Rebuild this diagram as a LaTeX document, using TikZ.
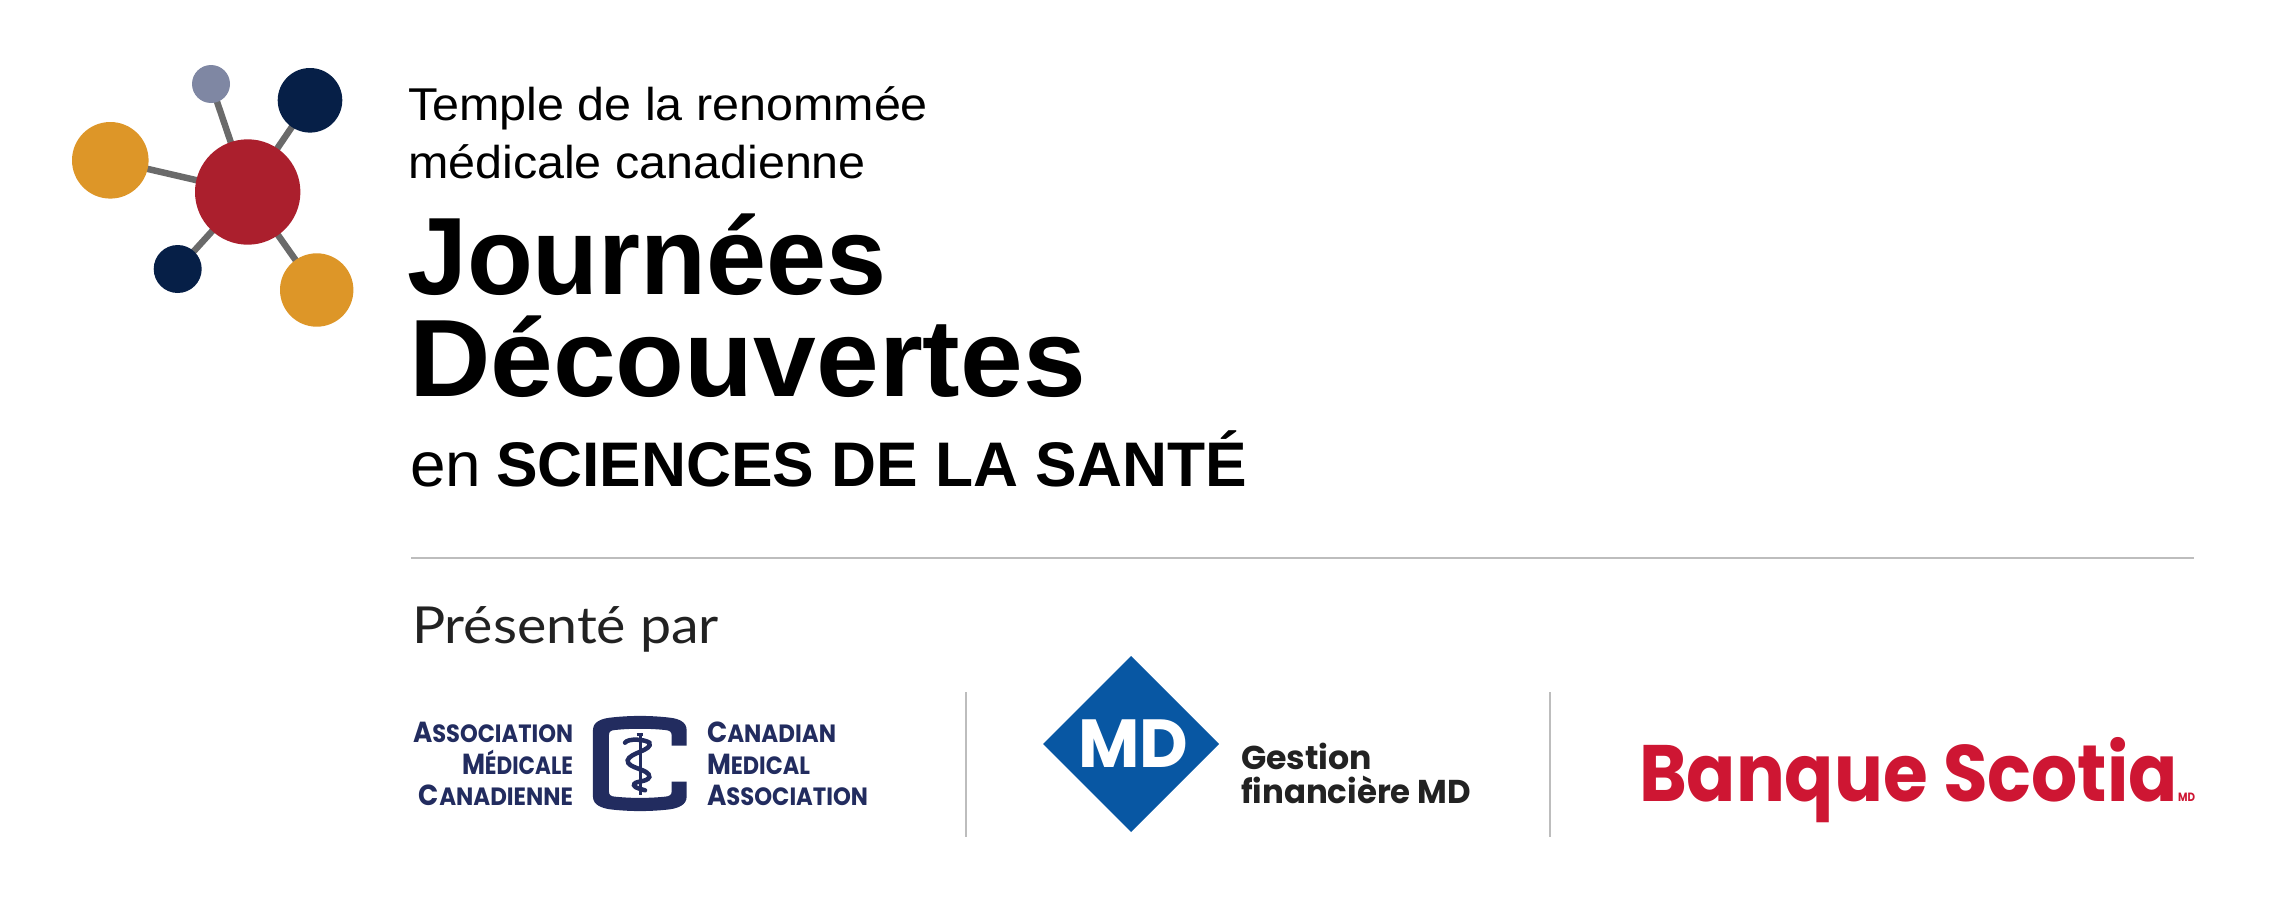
\documentclass[tikz,border=0pt]{standalone}
\usepackage{fontspec}
\usepackage{graphicx}
\setmainfont{Liberation Sans}
\newfontfamily\popfont{Poppins}
\newfontfamily\latofont{Lato}
\usetikzlibrary{backgrounds,shapes.geometric}
\definecolor{cOrange}{HTML}{DD9628}
\definecolor{cRed}{HTML}{AB1F2D}
\definecolor{cNavy}{HTML}{061F47}
\definecolor{cSlate}{HTML}{7F87A3}
\definecolor{cLink}{HTML}{6A6A6A}
\definecolor{cCma}{HTML}{222C5F}
\definecolor{cMd}{HTML}{0857A3}
\definecolor{cScotia}{HTML}{CE1633}
\definecolor{cRule}{HTML}{BDBDBD}
\definecolor{cInk}{HTML}{222222}
% width W, font size S: natural height, width forced
\newcommand{\fitw}[3]{\resizebox{#1pt}{\height}{\fontsize{#2pt}{#2pt}\selectfont #3}}
\newcommand{\cmatext}[3]{\resizebox{#1pt}{\height}{\popfont\bfseries\fontsize{29pt}{29pt}\selectfont #2{\fontsize{25pt}{25pt}\selectfont #3}}}
\tikzset{
  ball/.style={circle,inner sep=0pt,outer sep=0pt,fill=#1,draw=none},
  txt/.style={anchor=base west,inner sep=0pt,outer sep=0pt},
  txtr/.style={anchor=base east,inner sep=0pt,outer sep=0pt},
  linkline/.style={draw=cLink,line width=6.5pt},
  sep/.style={draw=cRule,line width=1.6pt},
  cmafont/.style={text=cCma},
}
\begin{document}
\begin{tikzpicture}[x=1pt,y=-1pt]
\useasboundingbox (0,0) rectangle (2271,921);
% molecule
\node[ball=cRed,minimum size=105.4pt] (hub) at (247.7,192) {};
\node[ball=cSlate,minimum size=38pt] (a1) at (211,84) {};
\node[ball=cNavy,minimum size=64.6pt] (a2) at (310,100.3) {};
\node[ball=cOrange,minimum size=76.6pt] (a3) at (110.3,160.3) {};
\node[ball=cNavy,minimum size=48pt] (a4) at (177.7,269) {};
\node[ball=cOrange,minimum size=73.4pt] (a5) at (316.7,290) {};
\begin{scope}[on background layer]
\draw[linkline] (hub.center) -- (a1.center);
\draw[linkline] (hub.center) -- (a2.center);
\draw[linkline] (hub.center) -- (a3.center);
\draw[linkline] (hub.center) -- (a4.center);
\draw[linkline] (hub.center) -- (a5.center);
\end{scope}
% titles
\node[txt] (t1) at (408,120) {\fitw{520}{46}{Temple de la renommée}};
\node[txt] (t2) at (408,178) {\fitw{458}{46}{médicale canadienne}};
\node[txt] (t3) at (407,294) {\fitw{480}{110}{\bfseries Journées}};
\node[txt] (t4) at (409,396.7) {\fitw{677}{110}{\bfseries Découvertes}};
\node[txt] (t5) at (410,486.7) {\fitw{71}{63}{en}};
\node[txt] (t6) at (496,486.7) {\fitw{751}{63}{\bfseries SCIENCES DE LA SANTÉ}};
% rule
\coordinate (r1) at (411,557.7);
\coordinate (r2) at (2194,557.7);
\draw[sep] (r1) -- (r2);
\node[txt,text=cInk] (p) at (412,643) {\fitw{307}{51}{\latofont Présenté par}};
% separators
\coordinate (v1a) at (966,692);
\coordinate (v1b) at (966,837);
\coordinate (v2a) at (1550,692);
\coordinate (v2b) at (1550,837);
\draw[sep] (v1a) -- (v1b);
\draw[sep] (v2a) -- (v2b);
% CMA text
\node[txtr,cmafont] (c1) at (573,742.7) {\cmatext{160}{A}{SSOCIATION}};
\node[txtr,cmafont] (c2) at (573,774) {\cmatext{111}{M}{ÉDICALE}};
\node[txtr,cmafont] (c3) at (573,805) {\cmatext{154}{C}{ANADIENNE}};
\node[txt,cmafont] (c4) at (707,742.7) {\cmatext{129}{C}{ANADIAN}};
\node[txt,cmafont] (c5) at (707,774) {\cmatext{103}{M}{EDICAL}};
\node[txt,cmafont] (c6) at (707,805) {\cmatext{161}{A}{SSOCIATION}};
% CMA C symbol (units: zoom px, 3 per image px)
\begin{scope}[shift={(390,680)},x=0.3333pt,y=-0.3333pt]
\fill[cCma] (890,197) -- (890,150) .. controls (890,125) and (865,116) .. (840,113)
 .. controls (780,106) and (720,106) .. (660,113)
 .. controls (635,116) and (609,125) .. (609,150) -- (609,350)
 .. controls (609,375) and (635,384) .. (660,388)
 .. controls (720,395) and (780,395) .. (840,388)
 .. controls (865,384) and (890,375) .. (890,350) -- (890,305) -- (845,305) -- (845,335)
 .. controls (845,345) and (838,349) .. (825,350)
 .. controls (775,355) and (725,355) .. (675,350)
 .. controls (662,349) and (657,345) .. (657,335) -- (657,165)
 .. controls (657,155) and (662,151) .. (675,150)
 .. controls (725,145) and (775,145) .. (825,150)
 .. controls (838,151) and (845,155) .. (845,165) -- (845,197) -- cycle;
\end{scope}
\begin{scope}[shift={(590,712)},x=0.3333pt,y=-0.3333pt]
\draw[cCma,line width=3pt] (150,62) -- (150,250);
\draw[cCma,line width=3pt] (140,68) -- (160,68);
\draw[cCma,line width=4.5pt,line cap=round] (105,92) .. controls (115,78) and (165,82) .. (178,92)
 .. controls (190,115) and (118,122) .. (113,145)
 .. controls (110,170) and (180,170) .. (178,195)
 .. controls (172,212) and (130,205) .. (132,220)
 .. controls (135,228) and (150,230) .. (165,235);
\end{scope}
% MD logo
\node[diamond,aspect=1,fill=cMd,inner sep=0pt,outer sep=0pt,minimum size=176pt] (mdd) at (1131,744) {};
\node[txt,text=white] (md) at (1078,767.7) {\resizebox{110pt}{\height}{\popfont\bfseries\fontsize{68pt}{68pt}\selectfont MD}};
\node[txt,text=cInk] (g1) at (1241,769.3) {\resizebox{131pt}{\height}{\popfont\bfseries\fontsize{33pt}{33pt}\selectfont Gestion}};
\node[txt,text=cInk] (g2) at (1241,803.3) {\resizebox{230pt}{\height}{\popfont\bfseries\fontsize{33pt}{33pt}\selectfont financière MD}};
% Scotia
\node[txt,text=cScotia] (s1) at (1639,801.7) {\resizebox{539pt}{\height}{\popfont\bfseries\fontsize{80pt}{80pt}\selectfont Banque Scotia}};
\node[txt,text=cScotia] (s2) at (2178,801.7) {\resizebox{17pt}{\height}{\popfont\bfseries\fontsize{12pt}{12pt}\selectfont MD}};
\end{tikzpicture}
\end{document}
